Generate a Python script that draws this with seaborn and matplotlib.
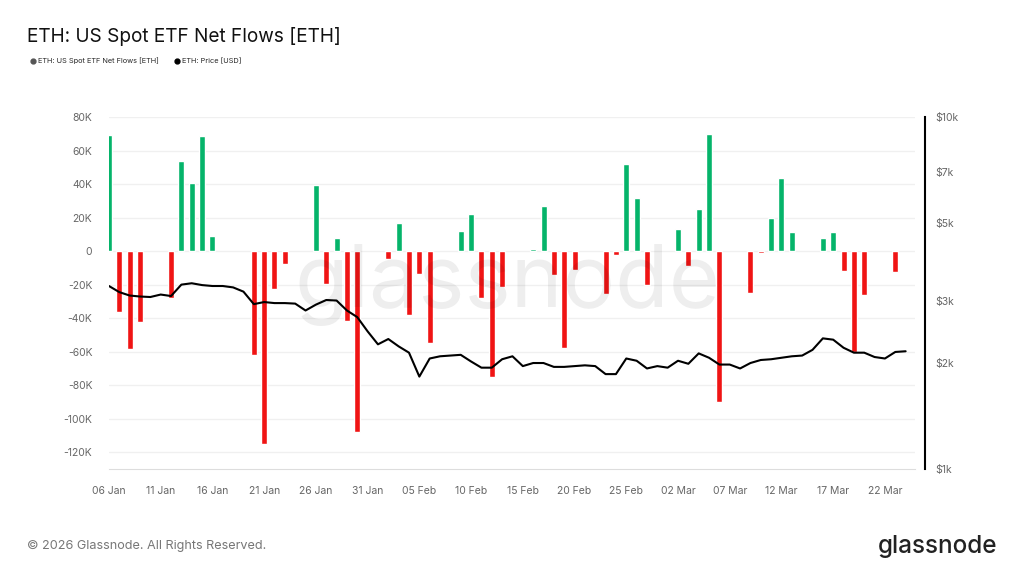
import pandas as pd
import matplotlib.pyplot as plt
import matplotlib.ticker as mticker
from matplotlib.lines import Line2D
import seaborn as sns

# Daily ETF net flows (thousand ETH), trading days only
flow_dates = [
    '2026-01-06', '2026-01-07', '2026-01-08', '2026-01-09', '2026-01-12',
    '2026-01-13', '2026-01-14', '2026-01-15', '2026-01-16', '2026-01-20',
    '2026-01-21', '2026-01-22', '2026-01-23', '2026-01-26', '2026-01-27',
    '2026-01-28', '2026-01-29', '2026-01-30', '2026-02-02', '2026-02-03',
    '2026-02-04', '2026-02-05', '2026-02-06', '2026-02-09', '2026-02-10',
    '2026-02-11', '2026-02-12', '2026-02-13', '2026-02-16', '2026-02-17',
    '2026-02-18', '2026-02-19', '2026-02-20', '2026-02-23', '2026-02-24',
    '2026-02-25', '2026-02-26', '2026-02-27', '2026-03-02', '2026-03-03',
    '2026-03-04', '2026-03-05', '2026-03-06', '2026-03-09', '2026-03-10',
    '2026-03-11', '2026-03-12', '2026-03-13', '2026-03-16', '2026-03-17',
    '2026-03-18', '2026-03-19', '2026-03-20', '2026-03-23',
]
flows_k = [
    69.0, -36.3, -58.7, -42.3, -27.7,
    54.0, 40.5, 68.9, 8.8, -62.0,
    -115.0, -22.4, -7.8, 39.3, -19.8,
    7.6, -41.9, -108.0, -5.0, 17.0,
    -37.9, -13.4, -55.0, 12.2, 22.4,
    -27.9, -75.0, -21.2, 1.0, 27.0,
    -14.2, -57.9, -11.2, -25.5, -2.2,
    51.7, 31.7, -20.2, 13.2, -9.2,
    25.0, 69.9, -90.2, -24.8, -1.4,
    19.6, 43.7, 11.6, 7.8, 11.2,
    -12.0, -60.3, -26.5, -12.4,
]

# Daily ETH price (USD), 06 Jan - 24 Mar
price_start = '2026-01-06'
price_usd = [
    3310, 3180, 3110, 3090, 3080, 3130, 3100, 3340, 3370, 3330,
    3310, 3310, 3280, 3190, 2940, 2980, 2960, 2960, 2950, 2820,
    2930, 3020, 3010, 2820, 2700, 2460, 2260, 2340, 2230, 2140,
    1830, 2060, 2090, 2100, 2110, 2020, 1940, 1940, 2050, 2090,
    1960, 2000, 2000, 1950, 1950, 1960, 1970, 1960, 1860, 1860,
    2060, 2030, 1930, 1960, 1940, 2030, 1990, 2130, 2070, 1980,
    1980, 1930, 2000, 2040, 2050, 2070, 2090, 2100, 2180, 2350,
    2330, 2210, 2140, 2140, 2080, 2060, 2150, 2160,
]

green = '#05b46a'
red = '#f01414'
grey_txt = '#666666'

t0 = pd.Timestamp(price_start)
flows = pd.DataFrame({'date': pd.to_datetime(flow_dates), 'flow': flows_k})
flows['day'] = (flows['date'] - t0).dt.days
flows['sign'] = ['in' if v >= 0 else 'out' for v in flows['flow']]

price = pd.DataFrame({'date': pd.date_range(price_start, periods=len(price_usd), freq='D'),
                      'price': price_usd})
price['day'] = (price['date'] - t0).dt.days

sns.set_style('white')
plt.rcParams['font.family'] = ['Inter', 'DejaVu Sans']

fig = plt.figure(figsize=(10.24, 5.76), dpi=100)
ax = fig.add_axes([0.1064, 0.1858, 0.7871, 0.6111])

sns.barplot(data=flows, x='day', y='flow', hue='sign', palette={'in': green, 'out': red},
            native_scale=True, width=0.58, dodge=False, saturation=1, legend=False,
            ax=ax, zorder=2)

ax.set_xlim(0, 77.9)
ax.set_ylim(-130, 80)
ax.set_yticks(range(-120, 81, 20))
ax.yaxis.set_major_formatter(mticker.FuncFormatter(lambda v, p: '0' if v == 0 else f'{v:.0f}K'))
ax.grid(axis='y', color='#f0f0f0', lw=1)
ax.set_axisbelow(True)

tick_days = list(range(0, 76, 5))
ax.set_xticks(tick_days)
ax.set_xticklabels([(t0 + pd.Timedelta(days=d)).strftime('%d %b') for d in tick_days])
ax.tick_params(axis='x', colors='#dddddd', labelcolor=grey_txt, labelsize=7.5,
               length=4, width=0.8, direction='out', pad=8)
ax.tick_params(axis='y', length=0, labelcolor=grey_txt, labelsize=7.5, pad=12)
ax.set_xlabel('')
ax.set_ylabel('')
for s in ['left', 'right', 'top']:
    ax.spines[s].set_visible(False)
ax.spines['bottom'].set_color('#dddddd')

# price on log axis
ax2 = ax.twinx()
sns.lineplot(data=price, x='day', y='price', color='black', lw=1.5, ax=ax2)
ax2.set_yscale('log')
ax2.set_ylim(1000, 10000)
ax2.set_yticks([1000, 2000, 3000, 5000, 7000, 10000])
ax2.set_yticklabels(['$1k', '$2k', '$3k', '$5k', '$7k', '$10k'])
ax2.yaxis.set_minor_locator(mticker.NullLocator())
ax2.tick_params(axis='y', length=0, labelcolor=grey_txt, labelsize=7.5, pad=8)
ax2.set_ylabel('')
ax2.set_xlim(0, 77.9)
for s in ['left', 'top', 'bottom']:
    ax2.spines[s].set_visible(False)
ax2.spines['right'].set_position(('outward', 7))
ax2.spines['right'].set_color('black')
ax2.spines['right'].set_linewidth(1.5)

# watermark
fig.text(0.496, 0.505, 'glassnode', fontsize=63, color='black', alpha=0.065,
         ha='center', va='center', zorder=10)

fig.text(0.026, 0.937, 'ETH: US Spot ETF Net Flows [ETH]', fontsize=13.7,
         color='#111111', va='center')
handles = [Line2D([], [], marker='o', ls='', color='#555555', markersize=3.5),
           Line2D([], [], marker='o', ls='', color='black', markersize=3.5)]
fig.legend(handles, ['ETH: US Spot ETF Net Flows [ETH]', 'ETH: Price [USD]'],
           loc='center left', bbox_to_anchor=(0.022, 0.894), ncol=2, frameon=False,
           fontsize=5.3, handletextpad=0.2, columnspacing=2.0, handlelength=1)

fig.text(0.026, 0.052, '\u00a9 2026 Glassnode. All Rights Reserved.', fontsize=9.1,
         color='#777777', va='center')
fig.text(0.974, 0.052, 'glassnode', fontsize=17.5, color='#222222', ha='right',
         va='center', fontweight='medium')

fig.savefig('out.png', dpi=100)
